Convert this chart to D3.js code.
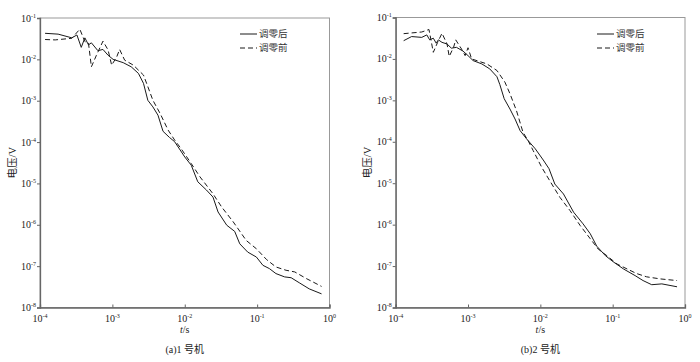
<!DOCTYPE html>
<html><head><meta charset="utf-8">
<script src="https://cdn.jsdelivr.net/npm/d3@7/dist/d3.min.js"></script>
<style>body{margin:0;background:#fff}svg{display:block}</style>
</head><body>
<svg id="c" width="700" height="362"></svg>
<script>
// values stored as log10 exponents
const xTicks = [1e-4, 1e-3, 1e-2, 1e-1, 1e0];
const xTickExp = ["-4", "-3", "-2", "-1", "0"];
const yTicks = [1e-1, 1e-2, 1e-3, 1e-4, 1e-5, 1e-6, 1e-7, 1e-8];
const yTickExp = ["-1", "-2", "-3", "-4", "-5", "-6", "-7", "-8"];
const legendLabels = ["调零后", "调零前"];
const captions = ["(a)1 号机", "(b)2 号机"];

const a_after_logt = [-3.93,-3.75,-3.56,-3.49,-3.43,-3.38,-3.33,-3.29,-3.20,-3.13,-3.06,-2.99,-2.85,-2.74,-2.64,-2.57,-2.51,-2.44,-2.37,-2.30,-2.21,-2.14,-2.00,-1.91,-1.82,-1.70,-1.61,-1.54,-1.42,-1.31,-1.24,-1.13,-1.01,-0.92,-0.83,-0.74,-0.62,-0.53,-0.41,-0.28,-0.11];
const a_after_logv = [-1.37,-1.39,-1.48,-1.41,-1.71,-1.48,-1.65,-1.60,-1.79,-1.76,-1.90,-2.00,-2.08,-2.18,-2.34,-2.58,-2.99,-3.15,-3.35,-3.74,-3.89,-3.99,-4.36,-4.56,-4.96,-5.16,-5.33,-5.69,-6.01,-6.16,-6.46,-6.66,-6.78,-6.98,-7.06,-7.18,-7.26,-7.28,-7.41,-7.55,-7.67];
const a_before_logt = [-3.93,-3.79,-3.56,-3.45,-3.38,-3.33,-3.29,-3.22,-3.13,-3.06,-3.01,-2.94,-2.90,-2.83,-2.71,-2.57,-2.51,-2.44,-2.34,-2.23,-2.14,-2.05,-1.91,-1.79,-1.61,-1.49,-1.33,-1.15,-1.01,-0.87,-0.74,-0.60,-0.48,-0.32,-0.11];
const a_before_logv = [-1.52,-1.53,-1.49,-1.27,-1.57,-1.61,-2.18,-1.90,-1.56,-1.77,-2.14,-1.94,-1.76,-2.02,-2.14,-2.38,-2.66,-2.99,-3.31,-3.71,-3.95,-4.16,-4.52,-4.84,-5.25,-5.57,-5.93,-6.38,-6.58,-6.84,-7.02,-7.10,-7.14,-7.30,-7.49];

const b_after_logt = [-3.89,-3.78,-3.64,-3.57,-3.53,-3.48,-3.44,-3.41,-3.36,-3.29,-3.23,-3.16,-3.07,-3.00,-2.93,-2.81,-2.70,-2.60,-2.56,-2.50,-2.42,-2.35,-2.28,-2.19,-2.07,-1.96,-1.88,-1.80,-1.68,-1.54,-1.41,-1.31,-1.22,-1.10,-0.99,-0.85,-0.69,-0.58,-0.46,-0.32,-0.11];
const b_after_logv = [-1.56,-1.46,-1.48,-1.42,-1.54,-1.50,-1.62,-1.54,-1.60,-1.64,-1.74,-1.72,-1.81,-1.92,-2.04,-2.12,-2.24,-2.43,-2.62,-2.96,-3.21,-3.45,-3.73,-3.93,-4.17,-4.44,-4.65,-5.02,-5.26,-5.70,-5.98,-6.22,-6.52,-6.75,-6.90,-7.07,-7.23,-7.35,-7.45,-7.43,-7.50];
const b_before_logt = [-3.89,-3.64,-3.54,-3.48,-3.42,-3.36,-3.29,-3.26,-3.20,-3.17,-3.09,-3.04,-3.00,-2.95,-2.74,-2.60,-2.49,-2.42,-2.33,-2.24,-2.17,-2.10,-1.98,-1.87,-1.73,-1.59,-1.45,-1.31,-1.20,-1.08,-0.94,-0.80,-0.67,-0.53,-0.34,-0.11];
const b_before_logv = [-1.39,-1.35,-1.29,-1.84,-1.60,-1.38,-1.64,-1.94,-1.72,-1.54,-1.76,-1.92,-1.73,-2.00,-2.12,-2.28,-2.56,-2.84,-3.25,-3.77,-3.97,-4.21,-4.62,-4.94,-5.34,-5.66,-6.02,-6.34,-6.59,-6.75,-6.95,-7.07,-7.18,-7.26,-7.31,-7.35];

const toPts = (lt, lv) => lt.map((d, i) => ({t: Math.pow(10, d), v: Math.pow(10, lv[i])}));

const panels = [
  {x0: 40, x1: 329.5, y0: 18, y1: 307.5, after: toPts(a_after_logt, a_after_logv), before: toPts(a_before_logt, a_before_logv),
   legX: 240, legLen: 17, cap: captions[0], ylabX: 12},
  {x0: 395.7, x1: 685, y0: 17.5, y1: 307.5, after: toPts(b_after_logt, b_after_logv), before: toPts(b_before_logt, b_before_logv),
   legX: 597, legLen: 17, cap: captions[1], ylabX: 367}
];

const svg = d3.select("#c");
const serif = "'Liberation Serif','DejaVu Serif','Noto Sans CJK SC',serif";
const sans = "'Noto Sans CJK SC','Noto Sans',sans-serif";

panels.forEach(p => {
  const x = d3.scaleLog().domain([1e-4, 1]).range([p.x0, p.x1]);
  const y = d3.scaleLog().domain([1e-8, 1e-1]).range([p.y1, p.y0]);
  const g = svg.append("g");

  // frame
  g.append("rect").attr("x", p.x0).attr("y", p.y0).attr("width", p.x1 - p.x0).attr("height", p.y1 - p.y0)
    .attr("fill", "none").attr("stroke", "#999").attr("stroke-width", 1);

  // axes
  const ax = g.append("g").attr("transform", `translate(0,${p.y1})`)
    .call(d3.axisBottom(x).tickValues(xTicks).tickSize(-3).tickFormat(""));
  const ay = g.append("g").attr("transform", `translate(${p.x0},0)`)
    .call(d3.axisLeft(y).tickValues(yTicks).tickSize(3).tickFormat(""));
  [ax, ay].forEach(a => { a.select(".domain").attr("stroke", "#666").attr("stroke-width", 1.3); a.selectAll(".tick line").attr("stroke", "#666"); });

  // tick labels with superscripts
  xTicks.forEach((t, i) => {
    const tx = g.append("text").attr("x", x(t)).attr("y", p.y1 + 14).attr("text-anchor", "middle")
      .attr("font-family", serif).attr("font-size", 10).attr("fill", "#222");
    tx.append("tspan").text("10");
    tx.append("tspan").attr("dy", -4).attr("font-size", 6).text(xTickExp[i]);
  });
  yTicks.forEach((t, i) => {
    const ty = g.append("text").attr("x", p.x0 - 4).attr("y", y(t) + 3.5).attr("text-anchor", "end")
      .attr("font-family", serif).attr("font-size", 10).attr("fill", "#222");
    ty.append("tspan").text("10");
    ty.append("tspan").attr("dy", -4).attr("font-size", 6).text(yTickExp[i]);
  });

  // axis titles
  const xt = g.append("text").attr("x", (p.x0 + p.x1) / 2).attr("y", p.y1 + 25).attr("text-anchor", "middle")
    .attr("font-family", serif).attr("font-size", 10).attr("fill", "#222");
  xt.append("tspan").attr("font-style", "italic").text("t");
  xt.append("tspan").text("/s");
  g.append("text").attr("transform", `translate(${p.ylabX},${(p.y0 + p.y1) / 2}) rotate(-90)`)
    .attr("text-anchor", "middle").attr("dy", "0.35em").attr("font-family", serif).attr("font-size", 10.5).attr("fill", "#222").text("电压/V");

  // caption
  g.append("text").attr("x", (p.x0 + p.x1) / 2).attr("y", 353).attr("text-anchor", "middle")
    .attr("font-family", serif).attr("font-size", 10).attr("fill", "#222").text(p.cap);

  // lines
  const line = d3.line().x(d => x(d.t)).y(d => y(d.v));
  g.append("path").datum(p.after).attr("d", line).attr("fill", "none").attr("stroke", "#1a1a1a").attr("stroke-width", 1);
  g.append("path").datum(p.before).attr("d", line).attr("fill", "none").attr("stroke", "#1a1a1a").attr("stroke-width", 1)
    .attr("stroke-dasharray", "5,3");

  // legend
  [0, 1].forEach(i => {
    const ly = 34 + i * 14;
    g.append("line").attr("x1", p.legX).attr("x2", p.legX + p.legLen).attr("y1", ly).attr("y2", ly)
      .attr("stroke", "#1a1a1a").attr("stroke-width", 1).attr("stroke-dasharray", i ? "5,3" : null);
    g.append("text").attr("x", p.legX + p.legLen + 2).attr("y", ly).attr("dy", "0.35em")
      .attr("font-family", sans).attr("font-size", 9.5).attr("fill", "#333").text(legendLabels[i]);
  });
});
</script>
</body></html>
